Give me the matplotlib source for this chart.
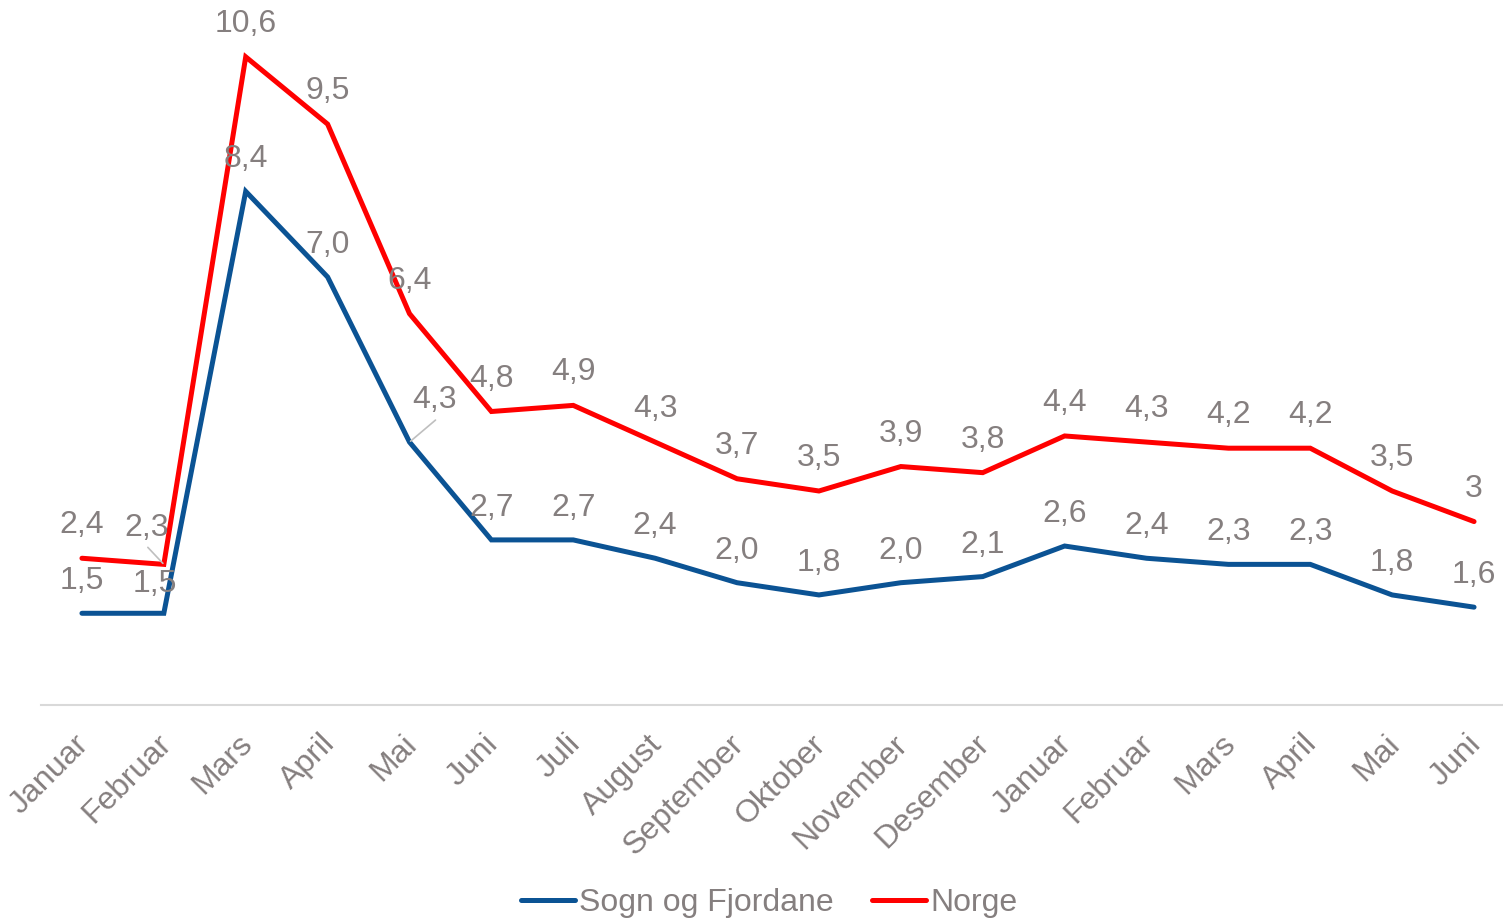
import matplotlib.pyplot as plt
import matplotlib.transforms as mtransforms
from matplotlib.lines import Line2D

plt.rcParams['font.family'] = ['Liberation Sans', 'DejaVu Sans']

# Data
maaneder = ['Januar', 'Februar', 'Mars', 'April', 'Mai', 'Juni', 'Juli', 'August',
            'September', 'Oktober', 'November', 'Desember', 'Januar', 'Februar',
            'Mars', 'April', 'Mai', 'Juni']
sogn = [1.5, 1.5, 8.4, 7.0, 4.3, 2.7, 2.7, 2.4, 2.0, 1.8, 2.0, 2.1, 2.6, 2.4, 2.3, 2.3, 1.8, 1.6]
norge = [2.4, 2.3, 10.6, 9.5, 6.4, 4.8, 4.9, 4.3, 3.7, 3.5, 3.9, 3.8, 4.4, 4.3, 4.2, 4.2, 3.5, 3.0]
norge_labels = ['2,4', '2,3', '10,6', '9,5', '6,4', '4,8', '4,9', '4,3', '3,7', '3,5',
                '3,9', '3,8', '4,4', '4,3', '4,2', '4,2', '3,5', '3']
sogn_labels = ['1,5', '1,5', '8,4', '7,0', '4,3', '2,7', '2,7', '2,4', '2,0', '1,8',
               '2,0', '2,1', '2,6', '2,4', '2,3', '2,3', '1,8', '1,6']

blaa = '#0B5394'
raud = '#FF0000'
tekst = '#857F7F'
fs = 23

fig = plt.figure(figsize=(15.03, 9.22), dpi=100)
# plot area in pixels: x 41..1515, y 0..705
ax = fig.add_axes([41 / 1503, (922 - 705) / 922, 1474 / 1503, 705 / 922])

x = list(range(len(maaneder)))
ax.plot(x, sogn, color=blaa, lw=3.6, solid_joinstyle='miter', solid_capstyle='round', zorder=3)
ax.plot(x, norge, color=raud, lw=3.6, solid_joinstyle='miter', solid_capstyle='round', zorder=3)

ax.set_xlim(-0.5, 17.5)
ax.set_ylim(0, 11.53)

# Dataetiketter (forskyvning i piksler)
for i in x:
    dx, dy = 0, 33
    if i == 1:
        dx, dy = -17, 36
    ax.annotate(norge_labels[i], (i, norge[i]), xytext=(dx, dy), textcoords='offset pixels',
                ha='center', va='center', fontsize=fs, color=tekst, zorder=4)
for i in x:
    dx, dy = 0, 32
    if i == 1:
        dx, dy = -9, 29
    if i == 4:
        dx, dy = 25, 42
    ax.annotate(sogn_labels[i], (i, sogn[i]), xytext=(dx, dy), textcoords='offset pixels',
                ha='center', va='center', fontsize=fs, color=tekst, zorder=4)

# Hjelpelinjer for flyttede etiketter
ax.annotate('', (1, norge[1]), xytext=(-16, 17), textcoords='offset pixels',
            arrowprops=dict(arrowstyle='-', color='#BFBFBF', lw=1.2, shrinkA=0, shrinkB=1))
ax.annotate('', (4, sogn[4]), xytext=(26, 22), textcoords='offset pixels',
            arrowprops=dict(arrowstyle='-', color='#BFBFBF', lw=1.2, shrinkA=0, shrinkB=1))

ax.set_xticks(x)
ax.set_xticklabels(maaneder, rotation=45, ha='right', rotation_mode='anchor',
                   fontsize=fs, color=tekst)
ax.tick_params(axis='x', length=0, pad=10)
forskyv = mtransforms.ScaledTranslation(-8 / 100, -10 / 100, fig.dpi_scale_trans)
for lab in ax.get_xticklabels():
    lab.set_transform(lab.get_transform() + forskyv)
ax.set_yticks([])
for s in ['top', 'right', 'left']:
    ax.spines[s].set_visible(False)
ax.spines['bottom'].set_color('#D9D9D9')
ax.spines['bottom'].set_linewidth(1.5)

handles = [Line2D([], [], color=blaa, lw=3.6, solid_capstyle='round'),
           Line2D([], [], color=raud, lw=3.6, solid_capstyle='round')]
leg = fig.legend(handles, ['Sogn og Fjordane', 'Norge'], loc='center',
                 bbox_to_anchor=(769 / 1503, 1 - 903 / 922), ncol=2, frameon=False,
                 fontsize=fs, handlelength=1.7, handletextpad=0.12, columnspacing=1.2,
                 borderpad=0, borderaxespad=0)
for t in leg.get_texts():
    t.set_color(tekst)

fig.savefig('out.png', dpi=100)
